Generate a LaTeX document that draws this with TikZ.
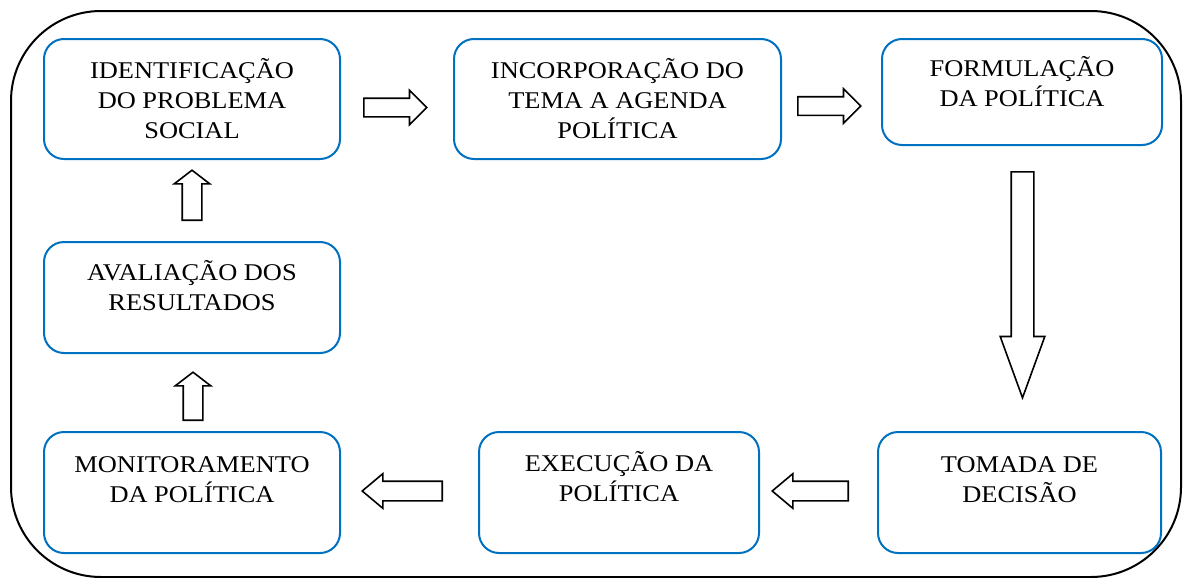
\documentclass[tikz,border=0pt]{standalone}
\usepackage{fontspec}
\setmainfont{Liberation Serif}[FakeStretch=1.1]
\usetikzlibrary{shapes.arrows,positioning}
\definecolor{boxblue}{RGB}{0,112,192}
\tikzset{stage node/.style={rectangle,rounded corners=10pt,draw=boxblue,line width=1pt,inner sep=0pt},
         stage text/.style={align=center,inner sep=0pt,anchor=base,font=\fontsize{12}{15}\selectfont},
         block arrow/.style={single arrow,draw=black,line width=0.8pt,fill=white,inner xsep=0pt,anchor=tail},
         right arrow/.style={block arrow,inner ysep=4.25pt,single arrow head extend=4pt,single arrow tip angle=90,minimum height=31.5pt},
         left arrow/.style={block arrow,rotate=180,inner ysep=4.5pt,single arrow head extend=3.75pt,single arrow tip angle=80},
         up arrow/.style={block arrow,rotate=90,inner ysep=4.5pt,single arrow head extend=4pt,single arrow tip angle=105},
}
\begin{document}
\begin{tikzpicture}[x=0.5pt,y=-0.5pt]
\useasboundingbox (0,0) rectangle (1183,578);
% outer frame
\draw[line width=1pt,rounded corners=45pt] (11,11) rectangle (1181,577);
% stages
\node [stage node,minimum width=148pt,minimum height=60pt] (ident) at (192,99) {};
\node [stage node,minimum width=163.5pt,minimum height=60pt] (agenda) at (617.5,99) {};
\node [stage node,minimum width=140pt,minimum height=53pt] (formul) at (1022,92) {};
\node [stage node,minimum width=148pt,minimum height=55.5pt] (aval) at (192,297.5) {};
\node [stage node,minimum width=148pt,minimum height=60.5pt] (monit) at (192,492.5) {};
\node [stage node,minimum width=140pt,minimum height=60.5pt] (exec) at (619,492.5) {};
\node [stage node,minimum width=141.5pt,minimum height=60.5pt] (decis) at (1019.5,492.5) {};
% text hangs from the last baseline
\node [stage text] (ident text) at ([yshift=-50pt]ident.north) {IDENTIFICAÇÃO\\DO PROBLEMA\\SOCIAL};
\node [stage text] (agenda text) at ([yshift=-50pt]agenda.north) {INCORPORAÇÃO DO\\TEMA A AGENDA\\POLÍTICA};
\node [stage text] (formul text) at ([yshift=-34pt]formul.north) {FORMULAÇÃO\\DA POLÍTICA};
\node [stage text] (aval text) at ([yshift=-34.5pt]aval.north) {AVALIAÇÃO DOS\\RESULTADOS};
\node [stage text] (monit text) at ([yshift=-35.5pt]monit.north) {MONITORAMENTO\\DA POLÍTICA};
\node [stage text] (exec text) at ([yshift=-35pt]exec.north) {EXECUÇÃO DA\\POLÍTICA};
\node [stage text] (decis text) at ([yshift=-35.5pt]decis.north) {TOMADA DE\\DECISÃO};
% arrows between stages
\node [right arrow] (a1) at (363,107.5) {};
\node [right arrow] (a2) at (797,106) {};
\node [block arrow,rotate=-90,inner ysep=5.25pt,single arrow head extend=5.5pt,single arrow tip angle=40,minimum height=113pt] (a3) at (1022.5,171) {};
\node [left arrow,minimum height=38pt] (a4) at (849,491) {};
\node [left arrow,minimum height=40pt] (a5) at (443,491) {};
\node [up arrow,minimum height=24pt] (a6) at (193,421) {};
\node [up arrow,minimum height=25pt] (a7) at (192,221) {};
\end{tikzpicture}
\end{document}
